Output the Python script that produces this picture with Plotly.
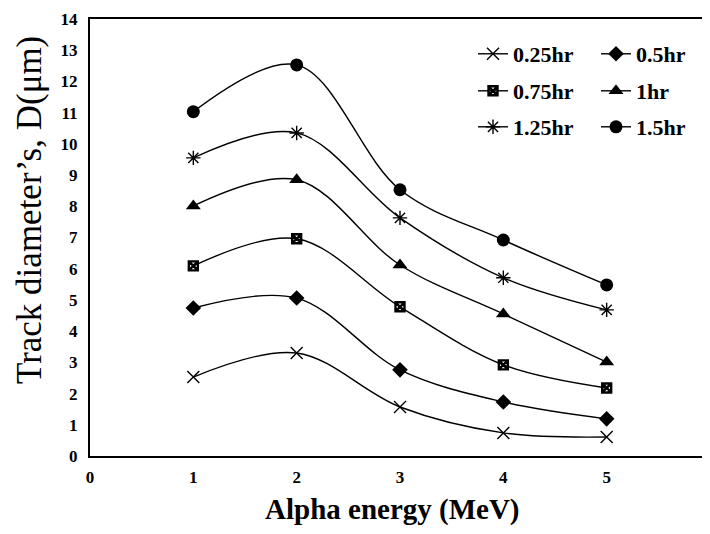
import plotly.graph_objects as go

# ---------------- data ----------------
energy = [1, 2, 3, 4, 5]
d_025 = [2.53, 3.30, 1.57, 0.74, 0.61]
d_050 = [4.74, 5.06, 2.76, 1.73, 1.19]
d_075 = [6.09, 6.96, 4.78, 2.92, 2.18]
d_100 = [8.01, 8.85, 6.12, 4.55, 3.01]
d_125 = [9.55, 10.35, 7.63, 5.71, 4.68]
d_150 = [11.03, 12.53, 8.53, 6.92, 5.48]
series_labels = ["0.25hr", "0.5hr", "0.75hr", "1hr", "1.25hr", "1.5hr"]
x_tick_vals = [0, 1, 2, 3, 4, 5, 6]
y_tick_vals = list(range(0, 15))
x_title = "Alpha energy (MeV)"
y_title = "Track diameter\u2019s, D(\u03bcm)"

# ---------------- styling ----------------
# page body has an 8px default margin, so the figure is 8px smaller
OFF = 8
W, H = 710 - OFF, 534 - OFF
ML, MR, MT, MB = 90 - OFF, 0, 19 - OFF, 78
PW, PH = W - ML - MR, H - MT - MB
SERIF = "Liberation Serif, Times New Roman, serif"

def px_x(px):  # page pixel -> paper
    return (px - OFF - ML) / PW

def px_y(py):
    return (H - MB - (py - OFF)) / PH

series = [d_025, d_050, d_075, d_100, d_125, d_150]
markers = [
    dict(symbol="x-thin-open", size=12, line=dict(width=1.4, color="black"), color="black"),
    dict(symbol="diamond", size=12, color="black", line=dict(width=0)),
    dict(symbol="square-x-open", size=9, color="black", line=dict(width=2.4, color="black")),
    dict(symbol="triangle-up", size=13, color="black", line=dict(width=0)),
    dict(symbol="asterisk-open", size=12, color="black", line=dict(width=1.4, color="black")),
    dict(symbol="circle", size=13, color="black", line=dict(width=0)),
]
legend_names = ["legend", "legend2", "legend3", "legend4", "legend5", "legend6"]
# legend positions (row-major, 2 columns), page pixels
col_px = [473, 596]
row_px = [54, 91, 127]

fig = go.Figure()
for i, (vals, lab, mk) in enumerate(zip(series, series_labels, markers)):
    fig.add_trace(go.Scatter(
        x=energy, y=vals, name=lab, mode="lines+markers",
        line=dict(color="black", width=1.4, shape="spline", smoothing=1.0),
        marker=mk, legend=legend_names[i], cliponaxis=False,
    ))

layout_legends = {}
for i, ln in enumerate(legend_names):
    r, c = divmod(i, 2)
    layout_legends[ln] = dict(
        x=px_x(col_px[c]), y=px_y(row_px[r]), xanchor="left", yanchor="middle",
        bgcolor="rgba(0,0,0,0)", borderwidth=0,
        font=dict(family=SERIF, size=22, color="black", weight="bold"),
        itemwidth=30,
    )

fig.update_layout(
    width=W, height=H,
    margin=dict(l=ML, r=MR, t=MT, b=MB, pad=0, autoexpand=False),
    paper_bgcolor="white", plot_bgcolor="white",
    showlegend=True,
    **layout_legends,
    xaxis=dict(
        range=[0, 6], tickvals=x_tick_vals, ticktext=[str(v) for v in x_tick_vals],
        showgrid=False, zeroline=False, showline=True, linecolor="black", linewidth=2,
        mirror=True, ticks="", ticklabelstandoff=5, ticklabeloverflow="allow",
        automargin=False,
        tickfont=dict(family=SERIF, size=17, color="black", weight="bold"),
    ),
    yaxis=dict(
        range=[0, 14], tickvals=y_tick_vals, ticktext=[str(v) for v in y_tick_vals],
        showgrid=False, zeroline=False, showline=True, linecolor="black", linewidth=2,
        ticks="", ticklabelstandoff=7, automargin=False,
        tickfont=dict(family=SERIF, size=17, color="black", weight="bold"),
    ),
    annotations=[
        dict(text=x_title, xref="paper", yref="paper", x=px_x(392), y=px_y(509),
             xanchor="center", yanchor="middle", showarrow=False,
             font=dict(family=SERIF, size=29, color="black", weight="bold")),
        dict(text=y_title, xref="paper", yref="paper", x=px_x(29), y=px_y(210),
             xanchor="center", yanchor="middle", showarrow=False, textangle=-90,
             font=dict(family=SERIF, size=35, color="black")),
    ],
)

fig.write_html("out.html")
